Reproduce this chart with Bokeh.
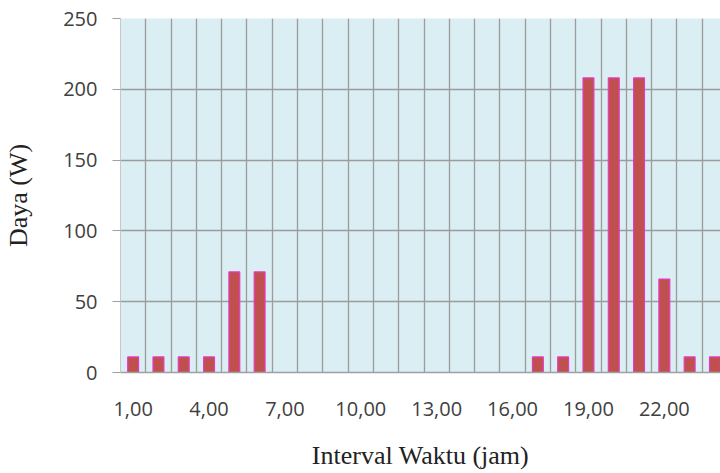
from bokeh.plotting import figure
from bokeh.models import FixedTicker, Range1d
from bokeh.embed import file_html
from bokeh.resources import INLINE

# data
hours = list(range(1, 25))
power = [11, 11, 11, 11, 71, 71, 0, 0, 0, 0, 0, 0, 0, 0, 0, 0,
         11, 11, 208, 208, 208, 66, 11, 11]
tick_positions = [1, 4, 7, 10, 13, 16, 19, 22]
tick_labels = ["1,00", "4,00", "7,00", "10,00", "13,00", "16,00", "19,00", "22,00"]
y_ticks = [0, 50, 100, 150, 200, 250]

p = figure(width=720, height=473, output_backend="svg", toolbar_location=None,
           x_range=Range1d(0.5, 24.22), y_range=Range1d(0, 250),
           min_border_left=120, min_border_right=0, min_border_top=18,
           min_border_bottom=101)

p.background_fill_color = "#DAEEF3"
p.outline_line_color = None

p.vbar(x=hours, top=power, width=0.43, fill_color="#C0504D",
       line_color="#E838C8", line_width=1.2)

# grids
p.xgrid.ticker = FixedTicker(ticks=[i + 0.5 for i in range(0, 25)])
p.xgrid.grid_line_color = "#9C9C9C"
p.xgrid.grid_line_width = 1.3
p.ygrid.ticker = FixedTicker(ticks=y_ticks)
p.ygrid.grid_line_color = "#9C9C9C"
p.ygrid.grid_line_width = 1.3

# x axis
p.xaxis.ticker = FixedTicker(ticks=tick_positions)
p.xaxis.major_label_overrides = dict(zip(tick_positions, tick_labels))
p.xaxis.major_tick_out = 0
p.xaxis.major_tick_in = 0
p.xaxis.minor_tick_out = 0
p.xaxis.minor_tick_in = 0
p.xaxis.axis_line_color = "#A0A0A0"
p.xaxis.axis_line_width = 1.5
p.xaxis.major_label_standoff = 29
p.xaxis.axis_label = "Interval Waktu (jam)"
p.xaxis.axis_label_standoff = 22

# y axis
p.yaxis.ticker = FixedTicker(ticks=y_ticks)
p.yaxis.major_tick_out = 8
p.yaxis.major_tick_in = 0
p.yaxis.minor_tick_out = 0
p.yaxis.minor_tick_in = 0
p.yaxis.axis_line_color = "#C8C8C8"
p.yaxis.major_tick_line_color = "#A0A0A0"
p.yaxis.major_label_standoff = 15
p.yaxis.axis_label = "Daya (W)"
p.yaxis.axis_label_standoff = 27

for ax in (p.xaxis, p.yaxis):
    ax.major_label_text_font = "Open Sans"
    ax.major_label_text_font_size = "20px"
    ax.major_label_text_color = "#404040"
    ax.axis_label_text_font = "Liberation Serif"
    ax.axis_label_text_font_size = "26px"
    ax.axis_label_text_font_style = "normal"
    ax.axis_label_text_color = "#222222"

open("out.html", "w").write(file_html(p, INLINE))
